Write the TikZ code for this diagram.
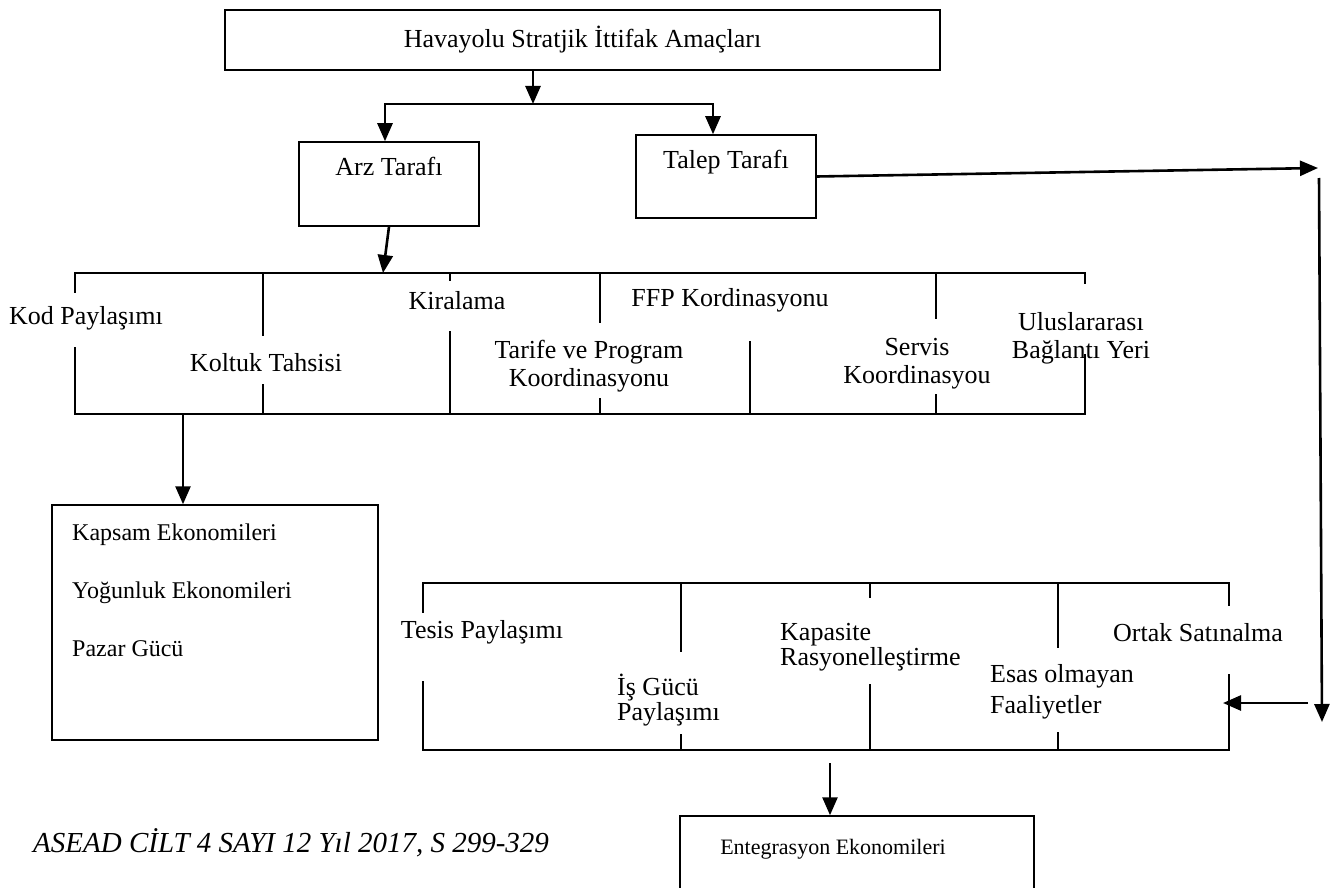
\documentclass[tikz,border=0pt]{standalone}
\usepackage{fontspec}
\setmainfont{Liberation Serif}
\usetikzlibrary{arrows.meta,positioning,calc}

\begin{document}
\begin{tikzpicture}[x=1pt, y=-1pt,
    box/.style={draw=black, line width=1.5pt, inner sep=0pt},
    conn/.style={line width=2.6pt, -{Triangle[length=18pt, width=15pt]}},
    bar/.style={line width=2.6pt, line cap=rect},
    txt/.style={font=\fontsize{26}{28}\selectfont, inner sep=0pt, align=center}
]
    \useasboundingbox (0,0) rectangle (1333,888);

    \node[box, minimum width=715pt, minimum height=60pt, txt] (goal) at (582.5,40) {Havayolu Stratjik İttifak Amaçları};
    \node[box, minimum width=180pt, minimum height=84pt] (arz) at (389,184) {};
    \node[box, minimum width=180pt, minimum height=83pt] (talep) at (726,176.5) {};
    \node[txt, below=16pt of arz.north] (arzt) {Arz Tarafı};
    \node[txt, below=16pt of talep.north] (talept) {Talep Tarafı};

    \coordinate (split) at (533,104);
    \coordinate (bl) at (385,104);
    \coordinate (br) at (713,104);
    \draw[conn] (split |- goal.south) -- (split);
    \draw[bar] (bl) -- (br);
    \draw[conn] (bl) -- (bl |- arz.north);
    \draw[conn] (br) -- (br |- talep.north);

    % arz tarafi grubu
    \coordinate (ga) at (75,273);
    \coordinate (gb) at (1085,414);
    \coordinate (gin) at (383,273);
    \draw[conn] (arz.south) -- (gin);
    \draw[bar] (ga) -- (ga -| gb);
    \draw[bar] (ga |- gb) -- (gb);
    \foreach \x/\a/\b in {75/273/292, 75/348/414, 263/273/335, 263/385/414,
        450/273/280, 450/332/414, 600/273/322, 600/399/414, 750/342/414,
        936/273/318, 936/395/414, 1085/273/283, 1085/355/414}
        \draw[bar] (\x,\a) -- (\x,\b);

    \node[txt] (kod) at (86,318) {Kod Paylaşımı};
    \node[txt] (koltuk) at (266,363) {Koltuk Tahsisi};
    \node[txt] (kira) at (457,301) {Kiralama};
    \node[txt] (ffp) at (730,300) {FFP Kordinasyonu};
    \node[txt] (tarife) at (589,366) {Tarife ve Program\\Koordinasyonu};
    \node[txt] (servis) at (917,364) {Servis\\Koordinasyou};
    \node[txt] (ulus) at (1081,338) {Uluslararası\\Bağlantı Yeri};

    \node[box, minimum width=326pt, minimum height=235pt] (eko) at (215,622.5) {};
    \node[txt, font=\fontsize{24}{58}\selectfont, align=left, anchor=north west] (ekot) at (72,524) {Kapsam Ekonomileri\\Yoğunluk Ekonomileri\\Pazar Gücü};
    \coordinate (gout) at (183,414);
    \draw[conn] (gout) -- (gout |- eko.north);

    % talep tarafi
    \coordinate (tr) at (1318,168);
    \coordinate (vt) at (1319,178);
    \coordinate (vb) at (1322,722);
    \coordinate (hl) at (1308,703);
    \coordinate (hin) at (1223,703);
    \draw[conn] (talep.east) -- (tr);
    \draw[conn] (vt) -- (vb);
    \draw[conn] (hl) -- (hin);

    % ortak grup
    \coordinate (ha) at (423,583);
    \coordinate (hb) at (1229,750);
    \draw[bar] (ha) -- (ha -| hb);
    \draw[bar] (ha |- hb) -- (hb);
    \foreach \x/\a/\b in {423/583/612, 423/682/750, 681/583/651, 681/735/750,
        870/583/597, 870/685/750, 1058/583/647, 1058/733/750,
        1229/583/605, 1229/675/750}
        \draw[bar] (\x,\a) -- (\x,\b);

    \node[txt] (tesis) at (482,632) {Tesis Paylaşımı};
    \node[txt, align=left, anchor=west, font=\fontsize{26}{25}\selectfont] (isgucu) at (617,700) {İş Gücü\\Paylaşımı};
    \node[txt, align=left, anchor=west, font=\fontsize{26}{23}\selectfont] (kapas) at (780,647) {Kapasite\\Rasyonelleştirme};
    \node[txt, align=left, anchor=west, font=\fontsize{26}{31}\selectfont] (esas) at (990,692) {Esas olmayan\\Faaliyetler};
    \node[txt] (ortak) at (1198,633) {Ortak Satınalma};

    \node[box, minimum width=354pt, minimum height=90pt] (ent) at (857,861) {};
    \node[txt, font=\fontsize{22}{24}\selectfont] (entt) at (833,849) {Entegrasyon Ekonomileri};
    \coordinate (hout) at (830,763);
    \draw[conn] (hout) -- (hout |- ent.north);

    \node[txt, font=\fontsize{29}{31}\itshape, anchor=west] (asead) at (33,843) {ASEAD CİLT 4 SAYI 12 Yıl 2017, S 299-329};
\end{tikzpicture}
\end{document}
